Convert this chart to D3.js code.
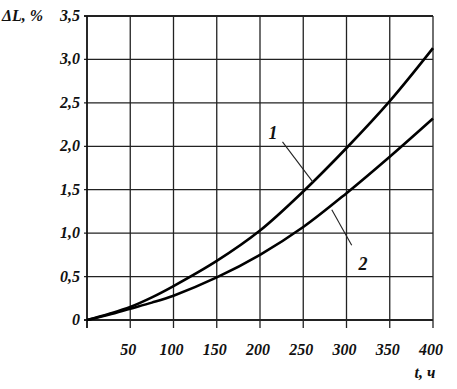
<!DOCTYPE html>
<html>
<head>
<meta charset="utf-8">
<script src="https://d3js.org/d3.v7.min.js"></script>
<style>
  body { margin: 0; background: #fff; }
  text { font-family: "Liberation Serif"; font-weight: bold; font-style: italic; fill: #111; }
</style>
</head>
<body>
<div id="chart"></div>
<script>
// hours and elongation (%)
var hours = [0, 25, 50, 75, 100, 150, 200, 250, 300, 350, 400];
var curve1 = [0, 0.07, 0.15, 0.26, 0.39, 0.68, 1.03, 1.48, 1.98, 2.52, 3.13];
var curve2 = [0, 0.06, 0.13, 0.20, 0.28, 0.49, 0.75, 1.07, 1.46, 1.88, 2.32];
var xTicks = [50, 100, 150, 200, 250, 300, 350, 400];
var yTicks = [0, 0.5, 1.0, 1.5, 2.0, 2.5, 3.0, 3.5];
var yTickLabels = ["0", "0,5", "1,0", "1,5", "2,0", "2,5", "3,0", "3,5"];
// curve labels with leader lines, in data units
var curveNotes = [
  {name: "1", at: [215, 2.15], from: [226, 2.05], to: [261, 1.59]},
  {name: "2", at: [319, 0.64], from: [283, 1.27], to: [306, 0.86]}
];

var width = 457, height = 389;
var margin = {top: 16, right: 24, bottom: 69, left: 87};

var svg = d3.select("#chart").append("svg")
    .attr("width", width)
    .attr("height", height);

var x = d3.scaleLinear().domain([0, 400]).range([margin.left, width - margin.right]);
var y = d3.scaleLinear().domain([0, 3.5]).range([height - margin.bottom, margin.top]);

// grid
svg.append("g").selectAll("line")
    .data(xTicks)
    .join("line")
    .attr("x1", d => x(d)).attr("x2", d => x(d))
    .attr("y1", y(3.5)).attr("y2", y(0) + 8)
    .attr("stroke", "#222").attr("stroke-width", 1.3);

svg.append("g").selectAll("line")
    .data(yTicks)
    .join("line")
    .attr("x1", x(0) - 3).attr("x2", x(400))
    .attr("y1", d => y(d)).attr("y2", d => y(d))
    .attr("stroke", "#222")
    .attr("stroke-width", d => (d == 0 || d == 3.5) ? 2 : 1.3);

// left axis
svg.append("line")
    .attr("x1", x(0)).attr("x2", x(0))
    .attr("y1", y(3.5)).attr("y2", y(0) + 8)
    .attr("stroke", "#111").attr("stroke-width", 1.8);

// tick labels
svg.append("g").selectAll("text")
    .data(yTicks)
    .join("text")
    .attr("x", x(0) - 7)
    .attr("y", d => y(d) + 5)
    .attr("text-anchor", "end")
    .style("font-size", "16px")
    .text((d, i) => yTickLabels[i]);

svg.append("text")
    .attr("x", 2)
    .attr("y", y(3.5) + 5)
    .style("font-size", "16px")
    .text("ΔL, %");

svg.append("g").selectAll("text")
    .data(xTicks)
    .join("text")
    .attr("x", d => x(d) - 2)
    .attr("y", y(0) + 35)
    .attr("text-anchor", "middle")
    .style("font-size", "16px")
    .text(d => d);

svg.append("text")
    .attr("x", x(400) - 8)
    .attr("y", y(0) + 58)
    .attr("text-anchor", "middle")
    .style("font-size", "16px")
    .text("t, ч");

// curves
var line = d3.line()
    .x((d, i) => x(hours[i]))
    .y(d => y(d))
    .curve(d3.curveCatmullRom.alpha(0.5));

[curve1, curve2].forEach(function(c) {
  svg.append("path")
      .datum(c)
      .attr("fill", "none")
      .attr("stroke", "#000")
      .attr("stroke-width", 2.6)
      .attr("d", line);
});

// curve labels
curveNotes.forEach(function(n) {
  svg.append("line")
      .attr("x1", x(n.from[0])).attr("y1", y(n.from[1]))
      .attr("x2", x(n.to[0])).attr("y2", y(n.to[1]))
      .attr("stroke", "#222").attr("stroke-width", 1.1);
  svg.append("text")
      .attr("x", x(n.at[0]))
      .attr("y", y(n.at[1]) + 6)
      .attr("text-anchor", "middle")
      .style("font-size", "18px")
      .text(n.name);
});
</script>
</body>
</html>
